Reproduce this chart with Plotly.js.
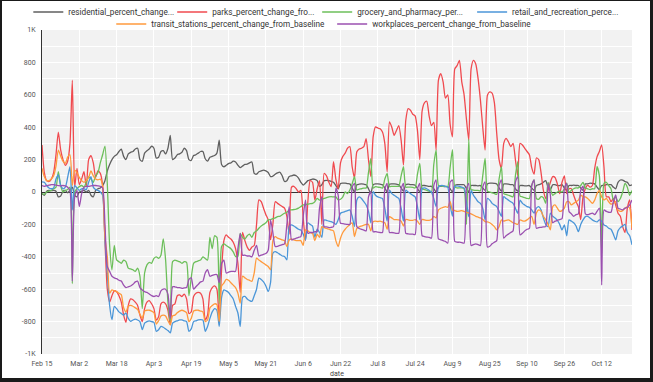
<!DOCTYPE html>
<html><head><meta charset="utf-8">
<script src="https://cdn.plot.ly/plotly-3.0.1.min.js"></script>
<style>
html,body{margin:0;padding:0;background:#fff;overflow:hidden;}
#chart{width:653px;height:382px;}
#frame{position:fixed;left:0;top:0;width:653px;height:382px;box-sizing:border-box;border-style:solid;border-color:#1a1a1a;border-width:1px 3px 4px 2px;pointer-events:none;}
</style></head>
<body><div id="chart"></div><div id="frame"></div>
<script>
// ---- data (daily, starting 2020-02-15) ----
const startDate = '2020-02-15';
const seriesNames = [
  'residential_percent_change...',
  'parks_percent_change_fro...',
  'grocery_and_pharmacy_per...',
  'retail_and_recreation_perce...',
  'transit_stations_percent_change_from_baseline',
  'workplaces_percent_change_from_baseline'
];
const seriesColors = ['#5f5f5f','#f04a4f','#6cbf5a','#4b96d8','#ff9a3c','#9b50b0'];

const residential = [
 -10,-20,5,10,8,10,5,
 -30,-25,5,10,-5,10,30,
 -20,-30,0,5,10,0,10,
 -20,-30,10,20,25,40,70,
 130,170,200,220,230,250,265,
 220,200,235,245,250,265,270,
 200,190,240,255,265,283,270,
 210,215,250,255,235,270,350,
 200,210,230,235,245,270,255,
 200,195,225,230,240,250,250,
 205,190,215,220,225,240,320,
 170,156,165,175,180,190,185,
 166,150,160,170,172,180,185,
 115,110,125,130,135,130,120,
 95,98,110,118,122,100,65,
 70,95,100,105,100,85,60,
 43,55,70,75,80,78,70,
 35,45,70,72,70,65,60,
 40,20,53,55,55,52,50,
 25,0,45,48,50,48,45,
 20,-8,45,50,50,48,45,
 25,0,48,50,50,48,45,
 25,5,45,48,45,45,42,
 22,0,40,40,38,35,35,
 20,0,33,35,35,33,33,
 20,0,40,45,45,45,45,
 22,0,40,40,40,38,40,
 25,10,50,55,55,53,50,
 25,5,50,50,48,45,45,
 20,5,40,40,38,38,40,
 25,10,40,45,50,60,70,
 30,15,45,45,40,40,45,
 25,10,40,40,42,40,40,
 25,10,50,50,55,53,50,
 30,15,40,40,45,45,45,
 30,20,60,74,74,65,60,
 40,45
];

const parks = [
 290,120,70,65,80,120,230,
 370,260,200,165,190,300,690,
 30,145,45,80,125,35,200,
 225,180,90,130,115,40,-300,
 -600,-680,-640,-610,-615,-640,-680,
 -760,-805,-700,-660,-665,-680,-700,
 -760,-800,-720,-680,-670,-690,-720,
 -790,-770,-690,-680,-690,-730,-820,
 -700,-690,-640,-635,-645,-630,-660,
 -750,-740,-645,-625,-620,-625,-660,
 -790,-760,-620,-590,-580,-600,-790,
 -480,-300,-265,-280,-290,-310,-350,
 -440,-620,-250,-300,-340,-360,-340,
 -330,-200,-49,-60,-100,-140,-172,
 -296,-200,-60,-70,-80,-90,-100,
 -150,-260,30,35,20,0,10,
 -160,-300,-60,70,60,-50,20,
 70,-200,115,100,60,33,187,
 80,20,180,220,240,270,280,
 156,86,248,265,270,280,330,
 200,95,340,402,395,390,370,
 300,125,433,400,350,380,410,
 320,166,443,515,505,480,470,
 380,200,500,550,560,470,410,
 430,259,690,731,680,580,600,
 420,341,760,780,813,680,600,
 450,320,760,813,790,700,567,
 400,259,597,618,610,550,361,
 200,146,300,331,310,280,300,
 200,100,300,290,270,250,230,
 150,110,210,200,120,10,-40,
 10,60,95,90,50,-10,60,
 100,-10,20,20,-20,-60,-90,
 -170,-30,20,43,30,40,146,
 217,250,290,150,-29,-30,-60,
 -40,-80,-131,-150,-214,-250,-100,
 -49,-234
];

const grocery = [
 -10,-15,0,5,10,20,30,
 125,40,0,10,15,30,-565,
 0,20,33,40,30,60,93,
 80,60,100,120,180,230,283,
 50,-330,-480,-330,-419,-430,-440,
 -420,-430,-470,-475,-480,-490,-470,
 -520,-720,-500,-450,-434,-440,-410,
 -400,-410,-390,-290,-420,-680,-800,
 -430,-420,-425,-430,-440,-430,-435,
 -640,-530,-440,-430,-425,-420,-400,
 -410,-420,-280,-350,-270,-280,-690,
 -337,-320,-330,-340,-350,-370,-398,
 -398,-255,-280,-290,-270,-260,-280,
 -250,-240,-224,-210,-200,-190,-172,
 -170,-165,-160,-152,-150,-140,-131,
 -125,-111,-110,-108,-105,-100,-90,
 -80,-78,-75,-72,-70,-60,-39,
 -50,-45,-40,-35,-30,-29,-30,
 -30,-49,-45,-30,0,-10,12,
 50,95,12,18,20,24,24,
 120,207,24,33,30,28,24,
 80,115,33,35,35,35,35,
 100,156,30,30,30,28,25,
 110,177,20,15,10,5,0,
 170,259,40,38,35,35,33,
 150,262,30,25,25,25,20,
 -200,325,15,12,10,10,8,
 100,207,5,0,-5,-10,-15,
 80,156,-10,-15,-20,-25,-30,
 100,187,-25,-30,-35,-40,-40,
 40,74,-40,-45,-29,-35,-70,
 60,20,-20,-10,0,6,0,
 20,55,0,10,20,25,25,
 40,60,25,20,15,20,20,
 156,100,-380,53,60,40,20,
 -49,-30,-60,-40,0,53,30,
 -20,10
];

const retail = [
 63,60,40,25,20,25,80,
 105,40,20,30,90,156,-111,
 40,25,10,20,20,15,60,
 95,30,15,10,0,-20,-300,
 -500,-700,-788,-706,-720,-740,-750,
 -760,-747,-780,-798,-790,-785,-790,
 -800,-850,-810,-800,-795,-800,-805,
 -860,-850,-830,-835,-845,-855,-870,
 -810,-800,-795,-790,-790,-795,-800,
 -860,-845,-800,-795,-790,-788,-790,
 -860,-830,-780,-740,-720,-730,-830,
 -650,-604,-610,-620,-640,-660,-706,
 -747,-830,-650,-645,-660,-670,-675,
 -640,-600,-532,-540,-555,-580,-614,
 -560,-378,-368,-375,-385,-395,-398,
 -419,-214,-203,-210,-220,-230,-235,
 -260,-296,-190,-200,-210,-280,-230,
 -250,-280,-172,-175,-180,-183,-190,
 -200,-172,-131,-125,-120,-115,-110,
 -150,-214,-49,-30,-40,-60,-80,
 -120,-190,2,-20,-30,-35,-40,
 -100,-180,12,-10,-20,-30,-40,
 -100,-180,12,0,-10,-20,-30,
 -90,-170,20,25,20,10,0,
 -40,-90,33,40,40,35,30,
 -80,-150,33,38,35,30,25,
 -60,-152,10,-20,-40,-60,-70,
 -100,-172,-40,-50,-70,-80,-90,
 -120,-150,-29,-40,-50,-60,-70,
 -100,-131,-50,-70,-80,-90,-95,
 -110,-131,-100,-90,-110,-160,-200,
 -214,-130,-150,-160,-175,-200,-234,
 -203,-270,-172,-180,-190,-210,-245,
 -200,-172,-152,-150,-160,-172,-180,
 -185,-172,-180,-203,-210,-224,-230,
 -260,-296,-240,-220,-210,-200,-250,
 -270,-326
];

const transit = [
 146,95,70,70,80,100,160,
 259,222,190,177,215,230,40,
 135,120,90,70,60,70,90,
 130,100,80,75,80,40,-280,
 -398,-624,-604,-610,-615,-625,-634,
 -715,-740,-705,-700,-705,-715,-725,
 -755,-780,-735,-730,-730,-735,-745,
 -815,-795,-765,-760,-765,-795,-820,
 -765,-760,-745,-735,-730,-735,-745,
 -800,-780,-735,-730,-730,-735,-740,
 -800,-790,-715,-700,-690,-695,-800,
 -580,-562,-540,-545,-560,-575,-590,
 -624,-686,-520,-530,-540,-545,-552,
 -500,-408,-420,-430,-440,-450,-460,
 -480,-300,-275,-285,-290,-296,-300,
 -337,-296,-290,-296,-300,-300,-300,
 -330,-234,-240,-250,-255,-300,-260,
 -280,-214,-220,-225,-230,-235,-240,
 -300,-337,-285,-250,-230,-214,-200,
 -190,-275,-225,-215,-210,-205,-200,
 -200,-240,-183,-180,-182,-180,-185,
 -190,-230,-152,-160,-170,-170,-172,
 -180,-210,-170,-172,-175,-175,-170,
 -180,-200,-170,-172,-175,-175,-170,
 -150,-160,-111,-100,-95,-90,-95,
 -60,-111,-115,-120,-118,-115,-120,
 -125,-130,-135,-142,-150,-155,-160,
 -170,-183,-185,-190,-200,-214,-234,
 -214,-172,-180,-175,-172,-180,-190,
 -195,-200,-172,-178,-180,-172,-160,
 -150,-200,-130,-111,-120,-150,-172,
 -200,-234,-90,-80,-100,-120,-115,
 -100,-60,-60,-80,-70,-60,-50,
 -20,-30,-30,-40,-55,-70,-50,
 -10,10,-30,-49,-40,-60,-75,
 -70,-60,-111,-120,-115,-100,-90,
 -100,-224
];

const workplaces = [
 40,35,40,42,45,45,42,
 40,38,40,38,30,10,-550,
 -30,10,-90,-10,30,35,35,
 38,40,40,38,35,25,-200,
 -460,-490,-520,-530,-535,-545,-550,
 -575,-590,-585,-580,-570,-555,-550,
 -590,-605,-615,-620,-630,-640,-645,
 -640,-645,-610,-600,-600,-630,-780,
 -585,-585,-590,-590,-595,-592,-590,
 -540,-530,-600,-585,-570,-555,-550,
 -500,-480,-520,-515,-510,-510,-560,
 -440,-420,-500,-495,-490,-490,-490,
 -350,-255,-390,-390,-395,-395,-400,
 -360,-330,-395,-390,-385,-380,-360,
 -172,-250,-337,-335,-330,-325,-320,
 -200,-90,-296,-290,-285,-280,-275,
 -150,-49,-255,-250,-250,-245,-245,
 -100,-29,-214,-215,-220,-218,-214,
 23,-20,-193,-195,-198,-200,-200,
 30,53,-214,-225,-230,-235,-240,
 -30,2,-245,-245,-248,-250,-250,
 20,53,-250,-250,-252,-255,-255,
 20,53,-255,-258,-260,-260,-262,
 20,53,-270,-275,-278,-280,-285,
 40,74,-290,-295,-300,-305,-316,
 60,74,-305,-310,-310,-312,-316,
 20,53,-330,-325,-320,-325,-330,
 30,63,-340,-335,-320,-310,-300,
 40,74,-285,-270,-260,-250,-240,
 60,94,-265,-255,-240,-230,-225,
 40,74,-224,-220,-218,-215,-214,
 53,-20,-190,-180,-175,-170,-165,
 20,53,-121,-135,-150,-140,-135,
 10,35,-135,-140,-135,-130,-140,
 -120,-100,-573,-111,-120,-125,-125,
 -60,-18,-100,-105,-110,-100,-95,
 -80,-49
];

const xTickDates = ['2020-02-15','2020-03-02','2020-03-18','2020-04-03','2020-04-19','2020-05-05','2020-05-21','2020-06-06','2020-06-22','2020-07-08','2020-07-24','2020-08-09','2020-08-25','2020-09-10','2020-09-26','2020-10-12'];
const xTickLabels = ['Feb 15','Mar 2','Mar 18','Apr 3','Apr 19','May 5','May 21','Jun 6','Jun 22','Jul 8','Jul 24','Aug 9','Aug 25','Sep 10','Sep 26','Oct 12'];
const yTickValues = [-1000,-900,-800,-700,-600,-500,-400,-300,-200,-100,0,100,200,300,400,500,600,700,800,900,1000];
const yTickLabels = ['-1K','','-800','','-600','','-400','','-200','','0','','200','','400','','600','','800','','1K'];

// ---- build ----
const allSeries = [residential, parks, grocery, retail, transit, workplaces];
const n = residential.length;
const dates = [];
for (let i = 0; i < n; i++) {
  const d = new Date(Date.UTC(2020, 1, 15 + i));
  dates.push(d.toISOString().slice(0, 10));
}
const endDate = dates[dates.length - 1];

const legendIds = ['legend','legend2','legend3','legend4','legend5','legend6'];
const traces = allSeries.map((vals, k) => ({
  type: 'scatter', mode: 'lines',
  x: dates, y: vals,
  name: seriesNames[k],
  legend: legendIds[k],
  line: {color: seriesColors[k], width: 1.3, shape: 'spline', smoothing: 0.6},
  hoverinfo: 'skip'
}));

const FONT = 'Roboto, "Noto Sans", sans-serif';
function legendAt(x, y) {
  return {
    orientation: 'h', xanchor: 'left', x: x, yanchor: 'middle', y: y,
    font: {family: FONT, size: 8.2, color: '#333'},
    bgcolor: 'rgba(0,0,0,0)', borderwidth: 0, itemwidth: 30
  };
}
const row1 = 1.0555, row2 = 1.0185;

const layout = {
  width: 653, height: 382,
  margin: {l: 42, r: 21, t: 30, b: 28, autoexpand: false},
  paper_bgcolor: '#ffffff',
  plot_bgcolor: '#f2f2f2',
  font: {family: FONT, size: 7, color: '#555'},
  showlegend: true,
  legend:  legendAt(-0.0232, row1),
  legend2: legendAt(0.2207, row1),
  legend3: legendAt(0.4664, row1),
  legend4: legendAt(0.7290, row1),
  legend5: legendAt(0.1174, row2),
  legend6: legendAt(0.4918, row2),
  xaxis: {
    type: 'date', range: [startDate, endDate],
    tickmode: 'array', tickvals: xTickDates, ticktext: xTickLabels,
    showgrid: true, gridcolor: '#ffffff', gridwidth: 1,
    zeroline: false, showline: false,
    ticks: 'outside', ticklen: 3, tickcolor: 'rgba(0,0,0,0)',
    tickfont: {family: FONT, size: 7, color: '#555'},
    title: {text: 'date', font: {family: FONT, size: 7, color: '#444'}, standoff: 3},
    fixedrange: true
  },
  yaxis: {
    range: [-1000, 1000],
    tickmode: 'array', tickvals: yTickValues, ticktext: yTickLabels,
    showgrid: true, gridcolor: '#ffffff', gridwidth: 1,
    zeroline: true, zerolinecolor: '#333', zerolinewidth: 1,
    showline: true, linecolor: '#333', linewidth: 1,
    ticks: 'outside', ticklen: 4, tickcolor: 'rgba(0,0,0,0)',
    tickfont: {family: FONT, size: 7, color: '#555'},
    fixedrange: true
  }
};

Plotly.newPlot('chart', traces, layout, {displayModeBar: false, staticPlot: true});
</script>
</body></html>
